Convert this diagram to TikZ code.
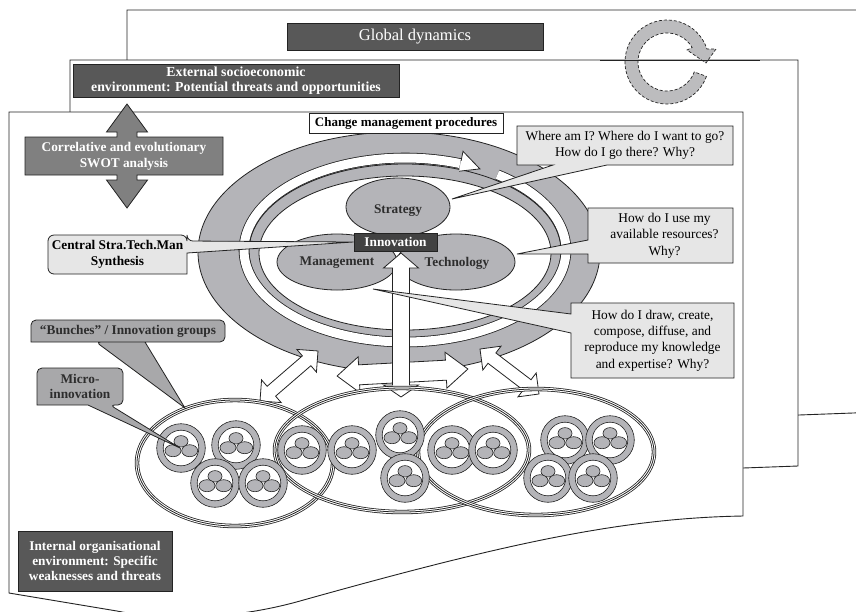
\documentclass[tikz,border=0pt]{standalone}
\usepackage{fontspec}
\setmainfont{Liberation Serif}
\usetikzlibrary{calc}
\definecolor{linec}{RGB}{35,35,35}
\definecolor{darkfill}{RGB}{88,88,88}
\definecolor{innfill}{RGB}{66,66,66}
\definecolor{swotfill}{RGB}{128,128,128}
\definecolor{ringfill}{RGB}{180,180,184}
\definecolor{cycfill}{RGB}{188,188,190}
\definecolor{bunchfill}{RGB}{168,168,170}
\definecolor{lightfill}{RGB}{230,230,230}
\definecolor{labtext}{RGB}{45,45,45}
\newcommand{\DblArrow}[7]{%
  \begin{scope}[shift={(#1,#2)}, rotate=#3]
    \draw[blockarrow] (-#4/2,0) -- (-#4/2+#7,#6/2) -- (-#4/2+#7,#5/2) -- (#4/2-#7,#5/2) -- (#4/2-#7,#6/2) -- (#4/2,0) -- (#4/2-#7,-#6/2) -- (#4/2-#7,-#5/2) -- (-#4/2+#7,-#5/2) -- (-#4/2+#7,-#6/2) -- cycle;
  \end{scope}}
\newcommand{\GroupEll}[3]{%
  \draw[grpa] #1 ellipse (#2 and #3);
  \draw[grpb] #1 ellipse (#2 and #3);
  \draw[grpc] #1 ellipse (#2 and #3);}
\begin{document}
\begin{tikzpicture}[x=1pt, y=-1pt, line width=0.8pt,
  pageline/.style={draw=linec, fill=white, line width=0.9pt},
  darkbox/.style={draw=linec, fill=darkfill, text=white, align=center, inner sep=0pt, line width=0.9pt},
  bflab/.style={font=\fontsize{13.3}{15.8}\selectfont\bfseries},
  rglab/.style={font=\fontsize{13.4}{16.3}\selectfont},
  boxframe/.style={inner sep=0pt, outer sep=0pt},
  callq/.style={draw=linec, fill=lightfill, line width=0.8pt},
  callb/.style={draw=linec, fill=bunchfill, line width=0.8pt},
  ringpart/.style={draw=linec, fill=ringfill, line width=0.8pt},
  blockarrow/.style={draw=linec, fill=white, line width=0.8pt, line join=miter},
  grpa/.style={draw=linec, line width=4.4pt},
  grpb/.style={draw=white, line width=2.8pt},
  grpc/.style={draw=linec, line width=0.8pt},
  cyclearrow/.style={draw=linec, fill=cycfill, densely dashed, line width=0.7pt},
  micro/.pic={
    \draw[ringpart, line width=0.6pt] (0,0) circle (24.3);
    \draw[draw=linec, fill=white, line width=0.6pt] (0,0) circle (17.8);
    \draw[ringpart, line width=0.6pt] (0,-6.7) ellipse (7 and 5.7);
    \draw[ringpart, line width=0.6pt] (-8,2.7) ellipse (8 and 6);
    \draw[ringpart, line width=0.6pt] (8.7,2.7) ellipse (8 and 6);
  }]
\useasboundingbox (0,0) rectangle (856,611);
\begin{scope}
\clip (0,0) rectangle (856,611);
% ---------- pages ----------
\draw[pageline] (127,470) -- (127,10) -- (880,10) -- (880,412) -- (799,415) -- (400,440) -- cycle;
\node[darkbox, minimum width=256pt, minimum height=27pt, font=\fontsize{16.5}{18}\selectfont] (global) at (415,36.5) {Global dynamics};
\draw[pageline] (70,560) -- (70,60) -- (798,60) -- (798,466) -- (743,468) -- (600,490) -- cycle;
% circular arrow
\draw[cyclearrow] plot[domain=20:342, samples=60] ({667+42*cos(\x)},{62+42*sin(\x)})
  -- (716,49) -- (706,63) -- (687,50)
  -- plot[domain=330:20, samples=60] ({667+29*cos(\x)},{62+29*sin(\x)}) -- cycle;
\draw[draw=linec, line width=0.9pt] (600,60) -- (760,60);
\node[darkbox, font=\fontsize{13.8}{15.5}\selectfont\bfseries, minimum width=326pt, minimum height=33pt] (extern) at (236,80.5) {External socioeconomic\\environment: Potential threats and opportunities};
\draw[pageline] (9,593) -- (9,112) -- (743,112) -- (743,516) .. controls (620,518) and (500,545) .. (300,601) .. controls (240,618) and (170,622) .. (117,611) -- cycle;
% ---------- SWOT double arrow ----------
\draw[draw=linec, fill=swotfill, line width=0.8pt] (127,104) -- (147.5,132) -- (137,132) -- (137,137) -- (223,137) -- (223,175) -- (137,175) -- (137,180) -- (147.5,180) -- (127,208) -- (106.5,180) -- (117,180) -- (117,175) -- (25,175) -- (25,137) -- (117,137) -- (117,132) -- (106.5,132) -- cycle;
\node[bflab, text=white, align=center] (swot) at (124,156) {Correlative and evolutionary\\SWOT analysis};
% ---------- big ring ----------
\draw[ringpart] (399,252) ellipse (201 and 120);
\draw[ringpart] (405,251) ellipse (156 and 87);
\draw[draw=linec, fill=white] (405,253) ellipse (146 and 77);
\draw[draw=linec, double=white, double distance=9pt, line width=0.8pt, line join=round] plot[domain=-55:290, samples=150] ({405+161*cos(\x)},{250+92*sin(\x)});
\fill[white] (461.1,160.8) -- (463.0,151.3) -- (479.9,168.9) -- (459.1,171.2) -- cycle;
\draw[draw=linec] (461.1,160.8) -- (463.0,151.3) -- (479.9,168.9) -- (459.1,171.2);
% ---------- three ellipses ----------
\fill[ringfill] (398,207) ellipse (52 and 29);
\fill[ringfill] (337,262) ellipse (60 and 28);
\fill[ringfill] (456,262) ellipse (59 and 28);
\draw[linec] (398,207) ellipse (52 and 29);
\draw[linec] (337,262) ellipse (60 and 28);
\draw[linec] (456,262) ellipse (59 and 28);
\node[bflab, text=labtext] (strat) at (398,211) {Strategy};
\node[bflab, text=labtext] (mgmt) at (337,263) {Management};
\node[bflab, text=labtext] (tech) at (457,263) {Technology};
% ---------- block arrows ----------
\DblArrow{289}{376}{40.8}{76.6}{13}{30}{15}
\DblArrow{402.5}{372.5}{3.06}{131}{20}{36}{22}
\DblArrow{509.5}{371.5}{-37.3}{74.2}{13}{30}{15}
\draw[blockarrow] (401,253) -- (418.5,268) -- (409.5,268) -- (409.5,385) -- (418.5,385) -- (401,397) -- (383.5,385) -- (392.5,385) -- (392.5,268) -- (383.5,268) -- cycle;
% ---------- groups ----------
\GroupEll{(235,463)}{98}{63}
\GroupEll{(402,450)}{127}{62}
\GroupEll{(536,452)}{118}{63}
\pic (m1) at (181,448) {micro};
\pic (m2) at (236,445) {micro};
\pic (m3) at (215,483) {micro};
\pic (m4) at (263,483) {micro};
\pic (m5) at (302,450) {micro};
\pic (m6) at (352,450) {micro};
\pic (m7) at (400,435) {micro};
\pic (m8) at (405,478) {micro};
\pic (m9) at (452,450) {micro};
\pic (m10) at (493,450) {micro};
\pic (m11) at (565,440) {micro};
\pic (m12) at (610,440) {micro};
\pic (m13) at (548,478) {micro};
\pic (m14) at (593,478) {micro};
% ---------- Innovation box ----------
\node[draw=linec, fill=innfill, text=white, bflab, minimum width=83pt, minimum height=18pt, inner sep=0pt, line width=0.9pt] (innov) at (395.5,242) {Innovation};
% ---------- callouts ----------
\path node[boxframe, minimum width=216pt, minimum height=39pt] (q1) at (625,145.5) {};
\coordinate (t1) at (452,199);
\draw[callq] (q1.north west) -- (q1.north east) -- (q1.south east) -- ([xshift=-126pt]q1.south east) -- (t1) -- ([xshift=36pt]q1.south west) -- (q1.south west) -- cycle;
\node[rglab, align=center] (q1t) at (q1) {Where am I? Where do I want to go?\\How do I go there? Why?};
\path node[boxframe, minimum width=145pt, minimum height=55pt] (q2) at (660.5,235.5) {};
\coordinate (t2) at (517,254);
\draw[callq] (q2.north west) -- (q2.north east) -- (q2.south east) -- (q2.south west) -- ([yshift=-46pt]q2.north west) -- (t2) -- ([yshift=-32pt]q2.north west) -- cycle;
\node[rglab, align=center] (q2t) at ([xshift=4pt]q2) {How do I use my\\available resources?\\Why?};
\path node[boxframe, minimum width=163pt, minimum height=75pt] (q3) at (652.5,340.5) {};
\coordinate (t3) at (373,289);
\draw[callq] (q3.north west) -- (q3.north east) -- (q3.south east) -- (q3.south west) -- ([yshift=-30pt]q3.north west) -- (t3) -- ([yshift=-11pt]q3.north west) -- cycle;
\node[rglab, align=center] (q3t) at (q3) {How do I draw, create,\\compose, diffuse, and\\reproduce my knowledge\\and expertise? Why?};
\path node[boxframe, minimum width=139pt, minimum height=39pt] (cs) at (117.5,254.5) {};
\draw[callq] (cs.north west) [rounded corners=6pt] -- (cs.north east) -- ([yshift=-6pt]cs.north east) [sharp corners] -- (innov.west) -- ([yshift=-18pt]cs.north east) -- (cs.south east) [rounded corners=6pt] -- (cs.south west) -- cycle;
\node[bflab, align=center] (cst) at (cs) {Central Stra.Tech.Man\\Synthesis};
\path node[boxframe, minimum width=194pt, minimum height=22pt] (bun) at (128,331) {};
\coordinate (tb) at (185,408);
\draw[callb] (bun.north west) [rounded corners=5pt] -- (bun.north east) -- (bun.south east) -- ([xshift=65pt]bun.south west) [sharp corners] -- (tb) -- ([xshift=114pt]bun.south west) -- (bun.south west) [rounded corners=5pt] -- cycle;
\node[bflab, text=labtext] (bunt) at (bun) {“Bunches” / Innovation groups};
\path node[boxframe, minimum width=86pt, minimum height=37pt] (mic) at (80,386.5) {};
\coordinate (tm) at (180,448);
\draw[callb] (mic.north west) [rounded corners=5pt] -- (mic.north east) -- (mic.south east) -- ([xshift=73pt]mic.south west) [sharp corners] -- (tm) -- ([xshift=51pt]mic.south west) -- (mic.south west) [rounded corners=5pt] -- cycle;
\node[bflab, text=labtext, align=center] (mict) at (mic) {Micro-\\innovation};
% ---------- other boxes ----------
\node[draw=linec, fill=white, font=\fontsize{13}{15}\selectfont\bfseries, minimum width=194pt, minimum height=20pt, inner sep=0pt] (cmp) at (406,123) {Change management procedures};
\node[darkbox, font=\fontsize{13.3}{15}\selectfont\bfseries, minimum width=154pt, minimum height=60pt] (intern) at (95,561) {Internal organisational\\environment: Specific\\weaknesses and threats};
\end{scope}
\end{tikzpicture}
\end{document}
